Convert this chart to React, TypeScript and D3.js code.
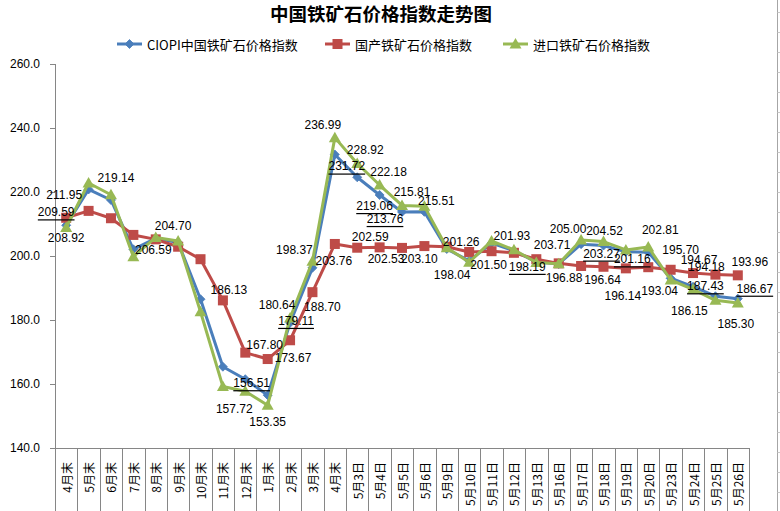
import React from "react";
import * as d3 from "d3";

const categories = ["4月末","5月末","6月末","7月末","8月末","9月末","10月末","11月末","12月末","1月末","2月末","3月末","4月末","5月3日","5月4日","5月5日","5月6日","5月9日","5月10日","5月11日","5月12日","5月13日","5月16日","5月17日","5月18日","5月19日","5月20日","5月23日","5月24日","5月25日","5月26日"];

const ciopi = [209.59,220.8,217.5,202.1,205.5,204.2,186.5,165.4,161.5,156.51,179.11,196.3,231.72,224.6,219.06,213.76,213.8,202.2,198.5,204.0,201.6,198.19,197.5,203.71,203.27,201.3,201.16,193.04,190.4,187.43,186.67];
const domestic = [211.95,214.1,211.8,206.59,205.2,202.9,199.0,186.13,169.8,167.80,173.67,188.70,203.76,202.59,202.7,202.53,203.10,202.9,201.26,201.50,201.0,199.0,197.7,196.88,196.64,196.14,196.5,195.70,194.67,194.18,193.96];
const imported = [208.92,222.8,219.14,199.8,205.8,204.70,182.6,159.2,157.72,153.35,180.64,198.37,236.99,228.92,222.18,215.81,215.51,202.6,198.04,204.7,201.93,198.0,197.6,205.00,204.52,201.9,202.81,192.5,189.6,186.15,185.30];

const seriesNames = ["CIOPI中国铁矿石价格指数","国产铁矿石价格指数","进口铁矿石价格指数"];
const yTicks = [140,160,180,200,220,240,260];

// label layout: [series, index, dx, dy, underline]
const labelSpec: [number, number, number, number, boolean][] = [
  [0,0,-10,-13,true],[0,9,-16,-12,true],[0,10,6,-2,true],[0,12,12,12,true],[0,14,-5,11,true],[0,15,-17,7,true],
  [0,21,-9,5,true],[0,23,-29,1,false],[0,24,-2,8,true],[0,26,-16,7,true],[0,27,-11,13,false],[0,29,-10,-10,true],[0,30,17,-10,true],
  [1,0,-2,-23,false],[1,3,20,15,false],[1,7,6,-10,false],[1,9,-3,-14,false],[1,10,3,18,false],[1,11,10,15,false],[1,12,-1,17,false],
  [1,13,13,-11,false],[1,15,-16,11,false],[1,16,-5,13,false],[1,18,-8,-10,false],[1,19,-3,14,false],[1,23,-17,12,false],[1,24,-1,13,false],
  [1,25,-3,28,false],[1,27,10,-20,false],[1,28,6,-13,false],[1,29,-9,-8,false],[1,30,12,-13,false],
  [2,0,0,11,false],[2,2,5,-17,false],[2,5,-5,-15,false],[2,8,-11,18,false],[2,9,0,17,false],[2,10,-13,-13,false],[2,11,-18,-11,false],
  [2,12,-12,-13,false],[2,13,8,-13,false],[2,14,9,-13,false],[2,15,10,-13,false],[2,16,12,-5,false],[2,18,-17,13,false],[2,20,-2,-14,false],
  [2,23,-13,-11,false],[2,24,1,-11,false],[2,26,12,-17,false],[2,29,-26,11,false],[2,30,-2,21,false],
];

const colors = ["#4A7EBB", "#BE4B48", "#98B954"];
const W = 780, H = 511;
const left = 55, right = 749, top = 64, bottom = 448;

function Marker({ s, x, y }: { s: number; x: number; y: number }) {
  if (s === 0) {
    const r = 4.5;
    return <path d={`M${x},${y - r}L${x + r},${y}L${x},${y + r}L${x - r},${y}Z`} fill={colors[0]} stroke={colors[0]} strokeWidth={0.8} />;
  }
  if (s === 1) {
    return <rect x={x - 5} y={y - 5} width={10} height={10} fill={colors[1]} />;
  }
  const r = 6;
  return <path d={`M${x},${y - r}L${x + r},${y + r * 0.75}L${x - r},${y + r * 0.75}Z`} fill={colors[2]} />;
}

export default function App() {
  const x = d3.scaleBand<string>().domain(categories.map((c, i) => i + "")).range([left, right]).padding(0);
  const xc = (i: number) => (x(i + "") as number) + x.bandwidth() / 2;
  const y = d3.scaleLinear().domain([140, 260]).range([bottom, top]);
  const data = [ciopi, domestic, imported];
  const line = d3.line<number>().x((_, i) => xc(i)).y((v) => y(v));
  const bounds = d3.range(categories.length + 1).map((i) => left + i * x.bandwidth());
  const rows = d3.range(12, H, 20);
  const legendX = [117, 325, 503];
  const font = "'Liberation Sans', Arial, sans-serif";
  const cjk = "'Noto Sans CJK SC', 'Liberation Sans', sans-serif";

  return (
    <div style={{ position: "fixed", left: 0, top: 0 }}>
      <svg width={W} height={H} style={{ display: "block", background: "#fff" }}>
        <rect x={0} y={0} width={W} height={H} fill="#fff" />
        {/* right frame edge */}
        <line x1={777.5} x2={777.5} y1={0} y2={H} stroke="#a6a6a6" />
        {rows.map((r) => (
          <line key={r} x1={777.5} x2={780} y1={r + 0.5} y2={r + 0.5} stroke="#c8c8c8" />
        ))}
        <text x={381} y={21} textAnchor="middle" fontFamily={cjk} fontWeight={700} fontSize={18.5} fill="#000">中国铁矿石价格指数走势图</text>
        {seriesNames.map((n, s) => (
          <g key={n}>
            <line x1={legendX[s]} x2={legendX[s] + 25} y1={44} y2={44} stroke={colors[s]} strokeWidth={3} />
            <Marker s={s} x={legendX[s] + 12.5} y={44} />
            <text x={legendX[s] + 30} y={44} dominantBaseline="central" fontFamily={cjk} fontSize={13} fill="#000">{n}</text>
          </g>
        ))}
        {/* y axis */}
        <line x1={left + 0.5} x2={left + 0.5} y1={top} y2={H} stroke="#868686" />
        {yTicks.map((t) => (
          <g key={t}>
            <line x1={left - 5} x2={left} y1={Math.round(y(t)) + 0.5} y2={Math.round(y(t)) + 0.5} stroke="#868686" />
            <text x={40} y={y(t)} textAnchor="end" dominantBaseline="central" fontFamily={font} fontSize={12} fill="#000">{t.toFixed(1)}</text>
          </g>
        ))}
        {/* x axis */}
        <line x1={left} x2={right} y1={bottom + 0.5} y2={bottom + 0.5} stroke="#868686" />
        {bounds.map((b, i) => (
          <line key={i} x1={Math.round(b) + 0.5} x2={Math.round(b) + 0.5} y1={bottom} y2={H} stroke="#868686" />
        ))}
        {categories.map((c, i) => (
          <text key={i} transform={`translate(${xc(i)},462) rotate(-90)`} textAnchor="end" dominantBaseline="central" fontFamily={cjk} fontSize={12} fill="#000">{c}</text>
        ))}
        {/* series */}
        {data.map((d, s) => (
          <g key={s}>
            <path d={line(d) as string} fill="none" stroke={colors[s]} strokeWidth={3} strokeLinejoin="round" />
            {d.map((v, i) => <Marker key={i} s={s} x={xc(i)} y={y(v)} />)}
          </g>
        ))}
        {/* data labels */}
        {labelSpec.map(([s, i, dx, dy, u], k) => (
          <text key={k} x={xc(i) + dx} y={y(data[s][i]) + dy} textAnchor="middle" dominantBaseline="central" fontFamily={font} fontSize={12} fill="#000" style={u ? { textDecoration: "underline" } : undefined}>{data[s][i].toFixed(2)}</text>
        ))}
      </svg>
    </div>
  );
}
